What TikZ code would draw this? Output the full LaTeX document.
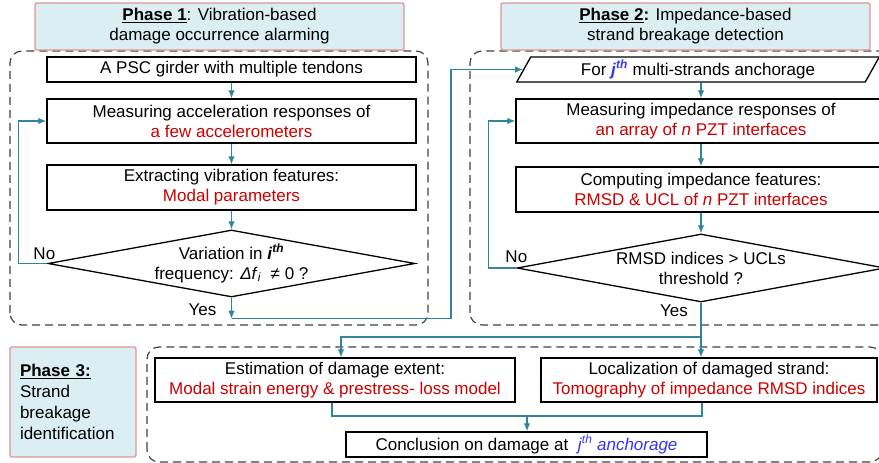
\documentclass[tikz,border=0pt]{standalone}
\usepackage{fontspec}
\setmainfont{Liberation Sans}
\usetikzlibrary{calc,shapes,arrows,arrows.meta}
\definecolor{flowc}{RGB}{49,133,155}
\definecolor{redtxt}{RGB}{204,0,0}
\definecolor{bluetxt}{RGB}{51,51,255}
\definecolor{headfill}{RGB}{218,238,243}
\definecolor{headline}{RGB}{225,150,145}
\definecolor{dashc}{RGB}{64,64,64}
\newcommand{\hlred}[1]{\textcolor{redtxt}{#1}}

\begin{document}
\begin{tikzpicture}[x=1pt,y=1pt,font=\fontsize{17}{20}\selectfont,
        proc/.style={draw,line width=1.3pt,align=center,inner sep=0pt,minimum width=369pt,minimum height=44pt},
        decide/.style={diamond,draw,line width=1.3pt,align=center,inner xsep=-16pt,inner ysep=0pt,aspect=5.5,minimum width=367pt,minimum height=67pt},
        para/.style={trapezium,trapezium left angle=62,trapezium right angle=118,trapezium stretches=true,draw,line width=1.3pt,inner sep=0pt,minimum width=363pt,minimum height=25pt},
        head/.style={draw=headline,fill=headfill,line width=1.3pt,rounded corners=2pt,align=center,inner sep=0pt,minimum width=369pt,minimum height=47pt},
        zone/.style={draw=dashc,line width=1.2pt,dash pattern=on 8pt off 5pt,rounded corners=12pt},
        flow/.style={draw=flowc,line width=1.2pt,-{Latex[length=8pt,width=6.5pt]}},
        link/.style={draw=flowc,line width=1.2pt},
        lbl/.style={inner sep=0pt}]
        \useasboundingbox (0,0) rectangle (879,463);
        \clip (0,0) rectangle (879,463);
        \draw[zone] (10,138) rectangle (428,412);
        \draw[zone] (470,138) rectangle (895,412);
        \draw[zone] (147,1) rectangle (882,116);
        \node[head] (head1) at (219.5,436.5) {\underline{\textbf{Phase 1}}: Vibration-based\\ damage occurrence alarming};
        \node[head] (head2) at (685.5,436.5) {\underline{\textbf{Phase 2}}\textbf{:} Impedance-based\\ strand breakage detection};
        \node[head,minimum width=126pt,minimum height=110pt,text width=106pt,inner xsep=10pt,align=left,font=\fontsize{17}{21}\selectfont] (head3) at (73,61) {\underline{\textbf{Phase 3:}}\\ Strand\\ breakage\\ identification};

        \node[proc,minimum height=25pt] (girder) at (231.5,393.5) {A PSC girder with multiple tendons};
        \node[proc] (accel) at (231.5,342) {Measuring acceleration responses of\\ \hlred{a few accelerometers}};
        \node[proc,minimum height=45pt] (modal) at (231.5,275.5) {Extracting vibration features:\\ \hlred{Modal parameters}};
        \node[decide] (freq) at (231.5,199.5) {Variation in \textbf{\textit{i}\textsuperscript{\textit{th}}}\\ frequency: \textit{Δf}\textsubscript{\textit{i}}\ \ ≠ 0 ?};

        \node[para] (anchor) at (698,393.5) {For \textcolor{bluetxt}{\textbf{\textit{j}\textsuperscript{\textit{th}}}} multi-strands anchorage};
        \node[proc,minimum width=370pt] (imped) at (701,342) {Measuring impedance responses of\\ \hlred{an array of \textit{n} PZT interfaces}};
        \node[proc,minimum width=370pt,minimum height=45pt] (rmsd) at (701,273.5) {Computing impedance features:\\ \hlred{RMSD \& UCL of \textit{n} PZT interfaces}};
        \node[decide,minimum width=368pt,minimum height=68pt] (ucl) at (701,195) {RMSD indices > UCLs\\ threshold ?};

        \node[proc,minimum width=360pt] (extent) at (335,83) {Estimation of damage extent:\\ \hlred{Modal strain energy \& prestress- loss model}};
        \node[proc,minimum width=336pt] (locate) at (709,83) {Localization of damaged strand:\\ \hlred{Tomography of impedance RMSD indices}};
        \node[proc,minimum width=361pt,minimum height=25pt] (concl) at (526.5,18.5) {Conclusion on damage at \ \textcolor{bluetxt}{\textit{j}\textsuperscript{\textit{th}} \textit{anchorage}}};

        \node[lbl,anchor=south] (no1) at ([xshift=-3pt,yshift=3.5pt]freq.west) {No};
        \node[lbl,anchor=north east] (yes1) at ([xshift=-15pt,yshift=-6pt]freq.south) {Yes};
        \node[lbl,anchor=south] (no2) at ([yshift=5pt]ucl.west) {No};
        \node[lbl,anchor=north east] (yes2) at ([xshift=-13pt,yshift=-2pt]ucl.south) {Yes};

        \draw[flow] (girder) -- (accel);
        \draw[flow] (accel) -- (modal);
        \draw[flow] (modal) -- (freq);
        \draw[flow] (freq.west) -- ++(-29,0) |- (accel.west);
        \coordinate (go1) at ([yshift=-21pt]freq.south);
        \draw[flow] (freq.south) -- (go1);
        \draw[flow] (go1) -| ([xshift=-72pt]anchor.west) -- (anchor.west);

        \draw[flow] (anchor.south -| imped.north) -- (imped.north);
        \draw[flow] (imped) -- (rmsd);
        \draw[flow] (rmsd) -- (ucl);
        \draw[flow] (ucl.west) -- ++(-28,0) |- (imped.west);
        \coordinate (split) at (701,126);
        \draw[link] (ucl.south) -- (split);
        \draw[flow] (split) -| ([xshift=6pt]extent.north);
        \draw[flow] (split) -- (split |- locate.north);
        \coordinate (merge) at (527,47);
        \draw[link] ([xshift=-3pt]extent.south) |- (merge);
        \draw[link] ([xshift=-7pt]locate.south) |- (merge);
        \draw[flow] (merge) -- (merge |- concl.north);
    \end{tikzpicture}
\end{document}
